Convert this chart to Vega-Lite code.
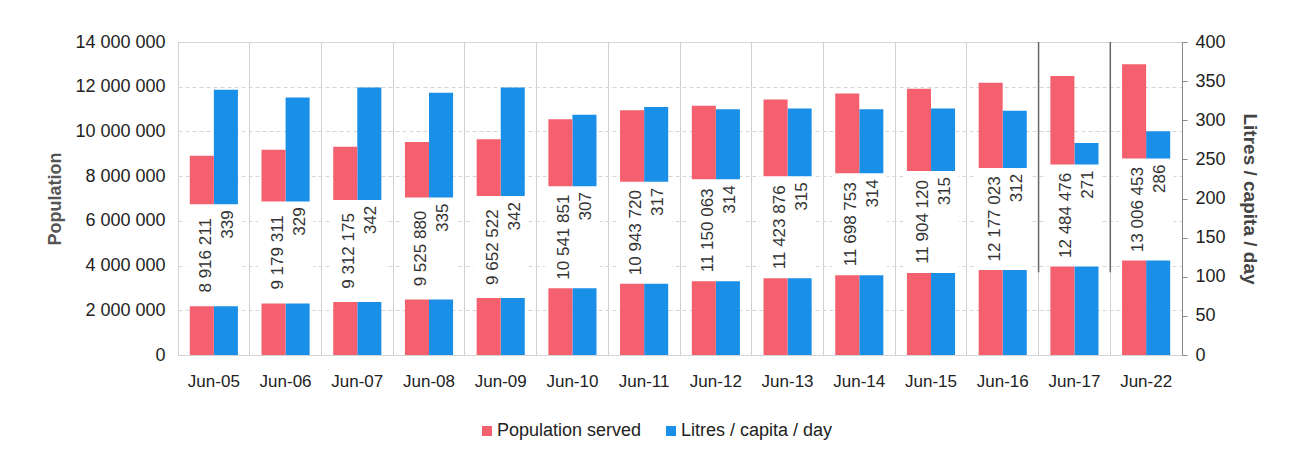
{
  "$schema": "https://vega.github.io/schema/vega-lite/v6.json",
  "width": 1004,
  "height": 313,
  "autosize": {"type": "none"},
  "padding": {"left": 178, "top": 42, "right": 112, "bottom": 106},
  "background": "white",
  "config": {
    "locale": {"number": {"decimal": ".", "thousands": " ", "grouping": [3], "currency": ["", ""]}},
    "font": "Liberation Sans",
    "view": {"stroke": "#d4d4d4"},
    "axis": {"labelFont": "Liberation Sans", "titleFont": "Liberation Sans"},
    "legend": {"labelFont": "Liberation Sans"}
  },
  "data": {
    "values": [
      {"month": "Jun-05", "population": 8916211, "litres": 339},
      {"month": "Jun-06", "population": 9179311, "litres": 329},
      {"month": "Jun-07", "population": 9312175, "litres": 342},
      {"month": "Jun-08", "population": 9525880, "litres": 335},
      {"month": "Jun-09", "population": 9652522, "litres": 342},
      {"month": "Jun-10", "population": 10541851, "litres": 307},
      {"month": "Jun-11", "population": 10943720, "litres": 317},
      {"month": "Jun-12", "population": 11150063, "litres": 314},
      {"month": "Jun-13", "population": 11423876, "litres": 315},
      {"month": "Jun-14", "population": 11698753, "litres": 314},
      {"month": "Jun-15", "population": 11904120, "litres": 315},
      {"month": "Jun-16", "population": 12177023, "litres": 312},
      {"month": "Jun-17", "population": 12484476, "litres": 271},
      {"month": "Jun-22", "population": 13006453, "litres": 286}
    ]
  },
  "encoding": {
    "x": {
      "field": "month", "type": "nominal", "sort": null,
      "scale": {"paddingInner": 0, "paddingOuter": 0},
      "axis": {
        "title": null, "labelAngle": 0, "labelFontSize": 17, "labelColor": "#222",
        "labelPadding": 18, "ticks": false, "domain": true, "domainColor": "#d4d4d4",
        "grid": true, "bandPosition": 0, "gridColor": "#d0d0d0"
      }
    }
  },
  "layer": [
    {
      "mark": {"type": "bar", "color": "#1a8fe8"},
      "encoding": {
        "xOffset": {"datum": "Litres / capita / day", "scale": {"domain": ["Population served", "Litres / capita / day"], "paddingInner": 0, "paddingOuter": 0.49}},
        "y": {
          "field": "litres", "type": "quantitative",
          "scale": {"domain": [0, 400]},
          "axis": {
            "orient": "right", "title": "Litres / capita / day", "values": [0, 50, 100, 150, 200, 250, 300, 350, 400],
            "labelFontSize": 18, "labelColor": "#222", "titleFontSize": 19, "titleColor": "#444", "titleFontWeight": "bold",
            "titlePadding": 14, "domain": true, "domainColor": "#888", "ticks": true, "tickColor": "#888", "tickSize": 5,
            "labelPadding": 8, "grid": false
          }
        },
        "color": {
          "datum": "Litres / capita / day",
          "scale": {"domain": ["Population served", "Litres / capita / day"], "range": ["#f5606f", "#1a8fe8"]},
          "legend": {
            "orient": "none", "legendX": 300, "legendY": 380, "direction": "horizontal", "title": null,
            "symbolType": "square", "symbolSize": 100, "labelFontSize": 18, "labelColor": "#222", "columnPadding": 20, "symbolStrokeWidth": 0, "labelOffset": 1
          }
        }
      }
    },
    {
      "layer": [
        {
          "mark": {"type": "bar", "color": "#f5606f"},
          "encoding": {
            "xOffset": {"datum": "Population served"},
            "y": {
              "field": "population", "type": "quantitative",
              "scale": {"domain": [0, 14000000]},
              "axis": {
                "orient": "left", "title": "Population", "format": ",d",
                "values": [0, 2000000, 4000000, 6000000, 8000000, 10000000, 12000000, 14000000],
                "labelFontSize": 18, "labelColor": "#222", "titleFontSize": 18, "titleColor": "#555", "titleFontWeight": "bold",
                "titlePadding": 10, "domain": false, "ticks": false, "labelPadding": 13,
                "grid": true, "gridColor": "#d6d6d6", "gridDash": [4, 3]
              }
            },
            "color": {"datum": "Population served"}
          }
        },
        {
          "transform": [{"calculate": "datum.population / 2", "as": "labelY"}],
          "layer": [
            {
              "mark": {"type": "point", "shape": "M-0.54,-1H0.54V1H-0.54Z", "filled": true, "fill": "white", "opacity": 1, "size": 10404, "strokeWidth": 0},
              "encoding": {"y": {"field": "labelY", "type": "quantitative", "title": "Population"}}
            },
            {
              "mark": {"type": "text", "angle": 270, "align": "center", "baseline": "middle", "fontSize": 17, "color": "#333", "dy": -8, "font": "Liberation Sans"},
              "encoding": {
                "y": {"field": "labelY", "type": "quantitative", "title": "Population"},
                "text": {"field": "population", "type": "quantitative", "format": ",d"}
              }
            },
            {
              "mark": {"type": "text", "angle": 270, "align": "right", "baseline": "middle", "fontSize": 17, "color": "#333", "dy": 14, "dx": 45, "font": "Liberation Sans"},
              "encoding": {
                "y": {"field": "labelY", "type": "quantitative", "title": "Population"},
                "text": {"field": "litres", "type": "quantitative", "format": "d"}
              }
            }
          ]
        },
        {
          "transform": [{"filter": "datum.month == 'Jun-17' || datum.month == 'Jun-22'"}],
          "mark": {"type": "rule", "color": "#666", "strokeWidth": 1.5},
          "encoding": {
            "x": {"field": "month", "type": "nominal", "sort": null, "bandPosition": 0},
            "y": {"datum": 14000000, "type": "quantitative", "title": "Population"},
            "y2": {"datum": 3700000}
          }
        }
      ]
    }
  ],
  "resolve": {"scale": {"y": "independent"}}
}
